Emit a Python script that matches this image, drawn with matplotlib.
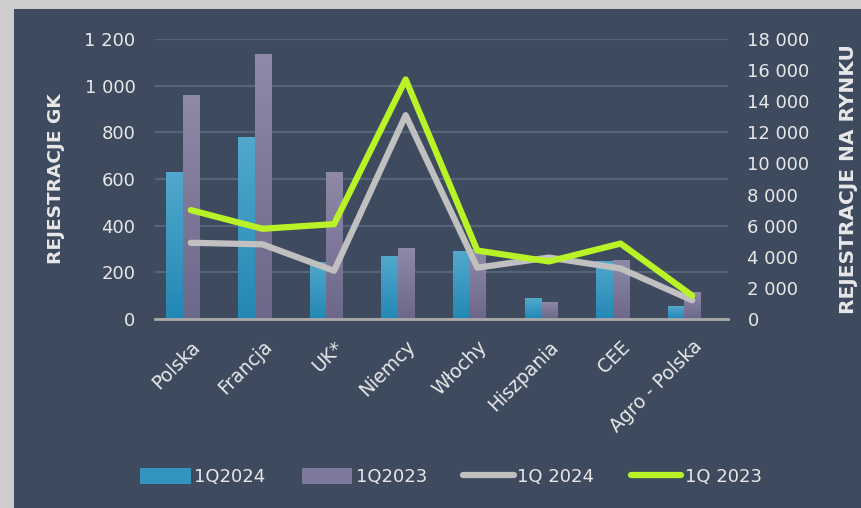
import numpy as np
import matplotlib.pyplot as plt
from matplotlib.patches import Patch, Rectangle
from matplotlib.lines import Line2D
from matplotlib.colors import LinearSegmentedColormap

categories = ["Polska", "Francja", "UK*", "Niemcy", "Włochy", "Hiszpania", "CEE", "Agro - Polska"]
gk_2024 = [630, 780, 245, 270, 290, 90, 250, 55]
gk_2023 = [960, 1135, 630, 305, 300, 75, 255, 115]
rynek_2024 = [4900, 4800, 3100, 13100, 3300, 3950, 3250, 1200]
rynek_2023 = [7000, 5800, 6100, 15400, 4400, 3700, 4850, 1500]
left_ticks = [0, 200, 400, 600, 800, 1000, 1200]
right_ticks = [0, 2000, 4000, 6000, 8000, 10000, 12000, 14000, 16000, 18000]

bg = "#3e4b5e"
txt = "#e8e8e8"

fig = plt.figure(figsize=(8.61, 5.08), dpi=100, facecolor=bg)
# light grey strips on the left and top
fig.add_artist(Rectangle((0, 0), 14 / 861, 1, transform=fig.transFigure,
                         facecolor="#cdcdcd", edgecolor="none"))
fig.add_artist(Rectangle((0, 1 - 9 / 508), 1, 9 / 508, transform=fig.transFigure,
                         facecolor="#cdcdcd", edgecolor="none"))

ax = fig.add_axes([155 / 861, 1 - 319 / 508, (728 - 155) / 861, 280 / 508])
ax.set_facecolor("none")
ax2 = ax.twinx()

x = np.arange(len(categories))
w = 0.23
off = -0.11

def grad_bars(xs, vals, top, bottom):
    bars = ax.bar(xs, vals, w, color=bottom, zorder=3, linewidth=0)
    cmap = LinearSegmentedColormap.from_list("g", [bottom, top])
    grad = np.linspace(1, 0, 100).reshape(-1, 1)
    for b in bars:
        x0, y0 = b.get_x(), b.get_y()
        im = ax.imshow(grad, cmap=cmap, aspect="auto", zorder=3.5,
                       extent=(x0, x0 + b.get_width(), y0, y0 + b.get_height()))
        im.set_clip_path(b)

grad_bars(x + off - w / 2, gk_2024, "#52a8cc", "#2388b5")
grad_bars(x + off + w / 2, gk_2023, "#8f89a8", "#6c6889")

ax.set_xlim(-0.5, len(categories) - 0.5)
ax.set_ylim(0, 1200)
ax.set_yticks(left_ticks)
ax.set_yticklabels([f"{v:,}".replace(",", " ") for v in left_ticks])
ax.grid(axis="y", color="#56647a", linewidth=1.6, zorder=1)
ax.set_axisbelow(True)

ax2.plot(x, rynek_2024, color="#c0c0c0", linewidth=4.5, solid_capstyle="round",
         solid_joinstyle="round", zorder=4)
ax2.plot(x, rynek_2023, color="#b9f227", linewidth=4.5, solid_capstyle="round",
         solid_joinstyle="round", zorder=5)
ax2.set_ylim(0, 18000)
ax2.set_yticks(right_ticks)
ax2.set_yticklabels([f"{v:,}".replace(",", " ") for v in right_ticks])

for a in (ax, ax2):
    for s in a.spines.values():
        s.set_visible(False)
    a.tick_params(length=0, colors=txt, labelsize=13)
ax.tick_params(axis="y", pad=14)
ax2.tick_params(axis="y", pad=14)
ax.spines["bottom"].set_visible(True)
ax.spines["bottom"].set_color("#a9a9a9")
ax.spines["bottom"].set_linewidth(2)
ax.spines["bottom"].set_zorder(6)

ax.set_xticks(x)
ax.set_xticklabels(categories, rotation=45, ha="right", rotation_mode="anchor",
                   fontsize=13.5, color=txt)
ax.tick_params(axis="x", pad=13)

ax.set_ylabel("REJESTRACJE GK", color=txt, fontsize=13.3, fontweight="bold", labelpad=14)
ax2.set_ylabel("REJESTRACJE NA RYNKU", color=txt, fontsize=14.5, fontweight="bold",
               rotation=90, labelpad=21)

handles = [Patch(facecolor="#3195c0"), Patch(facecolor="#7e7a9c"),
           Line2D([], [], color="#c0c0c0", linewidth=4.5, solid_capstyle="round"),
           Line2D([], [], color="#b9f227", linewidth=4.5, solid_capstyle="round")]
labels = ["1Q2024", "1Q2023", "1Q 2024", "1Q 2023"]
fig.legend(handles, labels, loc="center", bbox_to_anchor=(451 / 861, 1 - 477 / 508),
           ncol=4, frameon=False, fontsize=13, labelcolor=txt, handlelength=2.8,
           handletextpad=0.2, columnspacing=2.0, handleheight=1.0)

fig.savefig("out.png", dpi=100, facecolor=fig.get_facecolor())
